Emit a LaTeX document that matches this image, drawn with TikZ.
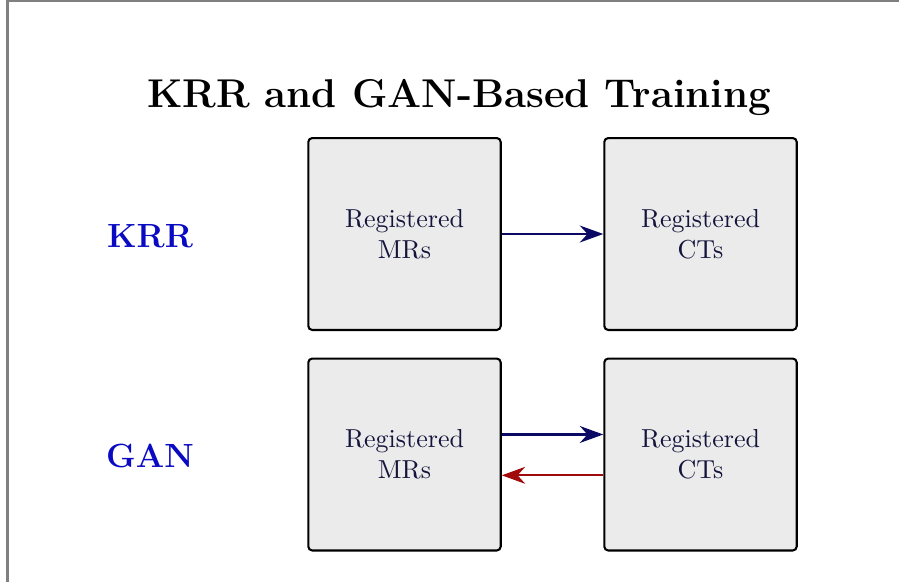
\documentclass[tikz,border=0pt]{standalone}
\usetikzlibrary{arrows.meta}
\definecolor{boxfill}{RGB}{235,235,235}
\definecolor{boxtext}{RGB}{20,20,60}
\definecolor{navyarrow}{RGB}{10,10,100}
\definecolor{redarrow}{RGB}{160,10,10}
\definecolor{labelblue}{RGB}{10,10,195}
\definecolor{framegray}{RGB}{128,128,128}
\begin{document}
\begin{tikzpicture}[x=0.3846pt,y=-0.3846pt,
  regbox/.style={draw=black, line width=0.8pt, fill=boxfill, rounded corners=1.5pt,
    minimum width=74pt, minimum height=73.8pt, inner sep=0pt, align=center,
    text=boxtext, font=\normalsize},
  rowlabel/.style={text=labelblue, font=\fontsize{12.9}{15}\selectfont\bfseries, anchor=center},
  flow/.style={line width=0.8pt, -{Stealth[length=9pt,width=6.5pt]}}]
\useasboundingbox (0,0) rectangle (899,581);
\draw[framegray, line width=0.8pt] (7.5,590) -- (7.5,1) -- (905,1);
\node[font=\fontsize{15.45}{18}\selectfont\bfseries, anchor=base] (title) at (459,107) {KRR and GAN-Based Training};
\node[regbox] (mr1) at (404.5,234) {Registered\\MRs};
\node[regbox] (ct1) at (700.5,234) {Registered\\CTs};
\node[regbox] (mr2) at (404.5,454.5) {Registered\\MRs};
\node[regbox] (ct2) at (700.5,454.5) {Registered\\CTs};
\node[rowlabel] (krr) at (150,236) {KRR};
\node[rowlabel] (gan) at (150,456) {GAN};
\draw[flow, navyarrow] (mr1.east) -- (ct1.west);
\draw[flow, navyarrow] ([yshift=7.7pt]mr2.east) -- ([yshift=7.7pt]ct2.west);
\draw[flow, redarrow] ([yshift=-8pt]ct2.west) -- ([yshift=-8pt]mr2.east);
\end{tikzpicture}
\end{document}
